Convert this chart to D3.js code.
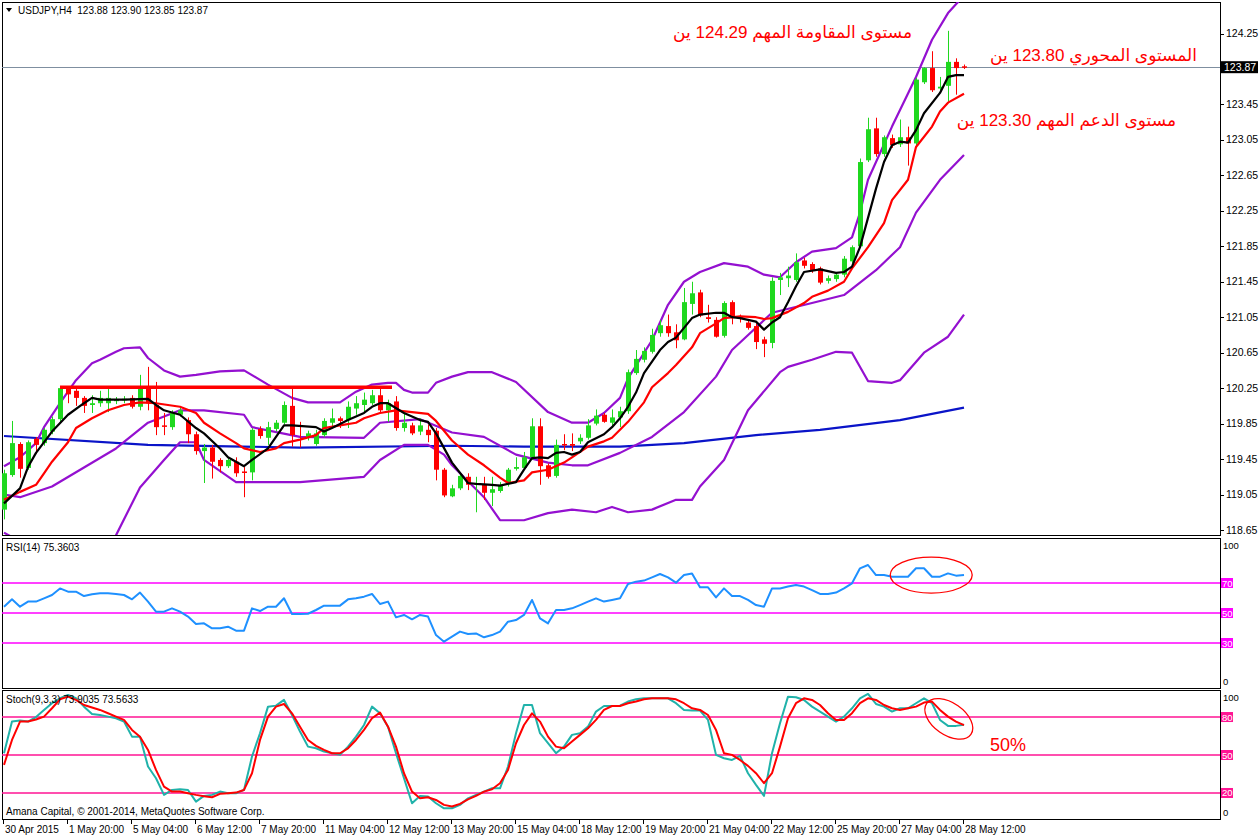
<!DOCTYPE html>
<html><head><meta charset="utf-8">
<script src="https://cdn.jsdelivr.net/npm/d3@7"></script>
<style>
body{margin:0;background:#fff;}
svg{display:block;}
text{font-family:"Liberation Sans","DejaVu Sans",sans-serif;}
</style></head><body><svg id="c" width="1260" height="837"></svg>
<script>
// ---------- DATA ----------
const symbolTitle = "USDJPY,H4  123.88 123.90 123.85 123.87";
const openP  = [118.88,119.27,119.62,119.35,119.68,119.63,119.76,119.90,120.26,120.22,120.14,120.06,120.08,120.08,120.11,120.12,120.14,120.04,120.25,120.06,119.83,119.81,119.95,119.89,119.73,119.54,119.58,119.44,119.37,119.42,119.31,119.30,119.79,119.69,119.79,119.86,120.05,119.83,119.69,119.62,119.72,119.86,119.91,119.89,120.02,120.06,120.08,120.17,120.00,120.10,119.80,119.83,119.76,119.78,119.77,119.33,119.03,119.12,119.25,119.18,119.16,119.07,119.09,119.18,119.34,119.35,119.47,119.82,119.38,119.26,119.62,119.62,119.65,119.69,119.85,119.95,119.86,119.92,119.99,120.42,120.57,120.66,120.87,120.95,120.88,120.80,121.20,121.33,121.05,121.02,120.84,121.22,121.05,120.99,120.95,120.80,120.76,121.47,121.49,121.47,121.69,121.65,121.60,121.46,121.48,121.53,121.68,121.85,122.82,123.18,122.89,123.07,123.00,123.08,123.01,123.70,123.86,123.63,123.66,123.93,123.88];
const highP  = [119.33,119.88,119.64,119.66,119.70,119.80,119.93,120.27,120.27,120.25,120.16,120.17,120.22,120.24,120.15,120.16,120.17,120.40,120.49,120.32,119.97,120.00,120.03,119.92,119.76,119.62,119.61,119.46,119.47,119.47,119.36,119.80,119.82,119.87,119.89,120.10,120.25,119.87,119.77,119.78,119.91,120.02,119.93,120.10,120.16,120.20,120.23,120.25,120.12,120.16,119.97,119.86,119.91,119.84,119.80,119.35,119.16,119.29,119.29,119.25,119.25,119.25,119.19,119.35,119.47,119.53,119.91,119.91,119.40,119.67,119.73,119.74,119.73,119.90,120.01,119.97,120.01,120.04,120.46,120.68,120.71,120.92,121.02,121.08,120.97,121.38,121.45,121.36,121.19,121.05,121.23,121.24,121.08,121.03,120.98,120.83,121.50,121.55,121.62,121.77,121.72,121.67,121.62,121.52,121.56,121.74,121.86,122.84,123.30,123.30,123.10,123.11,123.28,123.20,123.75,123.87,124.05,123.76,124.28,123.97,123.90];
const lowP   = [118.77,119.25,119.24,119.33,119.51,119.60,119.73,119.86,120.08,120.05,119.97,119.97,120.04,119.98,120.07,120.08,120.02,120.00,120.00,119.72,119.72,119.78,119.93,119.63,119.50,119.18,119.23,119.30,119.35,119.25,119.02,119.21,119.68,119.61,119.76,119.84,119.59,119.58,119.66,119.60,119.70,119.80,119.80,119.80,119.95,119.97,120.06,119.97,119.87,119.77,119.76,119.72,119.72,119.64,119.21,119.02,119.02,119.10,119.10,118.85,118.99,118.92,119.07,119.14,119.32,119.33,119.44,119.16,119.23,119.24,119.55,119.54,119.62,119.67,119.83,119.86,119.80,119.81,119.96,120.40,120.54,120.64,120.83,120.83,120.70,120.79,121.08,121.05,120.99,120.82,120.82,120.97,120.99,120.91,120.69,120.60,120.70,121.30,121.39,121.45,121.60,121.55,121.42,121.43,121.45,121.50,121.66,121.83,122.80,122.86,122.86,122.96,122.97,122.76,122.99,123.68,123.59,123.61,123.48,123.56,123.85];
const closeP = [119.29,119.63,119.34,119.64,119.61,119.78,119.90,120.25,120.18,120.14,120.05,120.08,120.14,120.14,120.12,120.13,120.04,120.25,120.08,119.81,119.82,119.97,120.00,119.73,119.54,119.58,119.42,119.37,119.44,119.29,119.30,119.78,119.71,119.81,119.86,120.06,119.72,119.82,119.74,119.74,119.88,119.91,119.88,120.04,120.08,120.12,120.17,120.00,120.08,119.80,119.86,119.74,119.83,119.72,119.33,119.04,119.12,119.26,119.16,119.18,119.07,119.11,119.16,119.33,119.36,119.47,119.82,119.37,119.25,119.61,119.61,119.60,119.69,119.83,119.94,119.87,119.92,119.99,120.43,120.58,120.67,120.85,120.96,120.87,120.79,121.22,121.32,121.07,121.03,120.83,121.21,121.04,121.04,120.93,120.77,120.75,121.46,121.50,121.52,121.67,121.63,121.58,121.44,121.49,121.53,121.71,121.84,122.80,123.17,122.89,123.08,122.99,123.08,123.01,123.73,123.86,123.61,123.65,123.93,123.86,123.87];

// price-panel indicator lines: [bar index, value]
const maFast = [[0,118.95],[2,119.12],[3,119.36],[4,119.52],[6,119.76],[8,119.95],[10,120.08],[11,120.14],[12,120.12],[15,120.12],[18,120.13],[19,120.06],[20,120.00],[22,119.95],[24,119.80],[25,119.74],[27,119.57],[28,119.47],[30,119.37],[31,119.44],[33,119.57],[34,119.70],[35,119.83],[36,119.83],[39,119.81],[40,119.76],[41,119.80],[43,119.89],[45,119.97],[46,120.04],[47,120.08],[48,120.08],[50,119.97],[52,119.89],[53,119.87],[54,119.74],[56,119.41],[58,119.18],[59,119.17],[61,119.16],[62,119.15],[64,119.19],[65,119.33],[66,119.46],[67,119.47],[68,119.46],[69,119.52],[70,119.53],[71,119.50],[72,119.53],[73,119.64],[75,119.73],[76,119.81],[77,119.91],[78,120.04],[79,120.20],[80,120.42],[82,120.68],[83,120.77],[84,120.82],[86,121.04],[87,121.08],[89,121.10],[90,121.10],[91,121.05],[92,121.04],[94,121.00],[95,120.91],[96,120.99],[97,121.05],[98,121.22],[99,121.40],[100,121.56],[102,121.59],[104,121.55],[105,121.56],[106,121.62],[107,121.84],[108,122.17],[109,122.50],[110,122.80],[111,122.99],[112,123.03],[113,123.02],[114,123.16],[115,123.35],[117,123.58],[118,123.76],[119,123.78],[120,123.78]];
const maSlow = [[0,118.99],[2,119.08],[4,119.16],[5,119.29],[6,119.42],[8,119.64],[9,119.80],[11,119.91],[13,120.00],[15,120.06],[17,120.09],[19,120.08],[22,120.04],[24,119.97],[25,119.86],[27,119.74],[29,119.63],[30,119.57],[32,119.53],[34,119.57],[35,119.63],[37,119.67],[39,119.72],[40,119.80],[42,119.83],[44,119.86],[45,119.91],[47,119.97],[49,120.00],[51,119.98],[53,119.96],[54,119.88],[56,119.66],[58,119.50],[60,119.38],[62,119.24],[63,119.18],[65,119.21],[66,119.30],[68,119.33],[70,119.41],[71,119.47],[73,119.59],[75,119.65],[76,119.69],[78,119.87],[80,120.09],[81,120.26],[83,120.42],[84,120.51],[86,120.71],[87,120.87],[89,120.98],[90,121.04],[92,121.06],[94,121.05],[95,121.03],[96,121.04],[98,121.11],[100,121.21],[101,121.28],[103,121.35],[105,121.45],[106,121.60],[108,121.84],[110,122.11],[111,122.37],[113,122.60],[114,122.97],[116,123.20],[117,123.37],[118,123.47],[120,123.57]];
const ma200 = [[0,119.71],[18,119.61],[37,119.58],[56,119.60],[65,119.59],[77,119.59],[85,119.63],[94,119.72],[102,119.78],[112,119.89],[120,120.03]];
const bbUpper = [[0,119.37],[2,119.47],[4,119.63],[5,119.81],[7,120.08],[9,120.34],[11,120.53],[12,120.57],[14,120.66],[15,120.70],[17,120.71],[18,120.59],[20,120.45],[22,120.38],[24,120.40],[27,120.44],[30,120.45],[33,120.29],[36,120.14],[38,120.09],[42,120.09],[44,120.21],[46,120.29],[48,120.31],[49,120.31],[50,120.23],[51,120.20],[53,120.20],[54,120.31],[56,120.38],[58,120.43],[61,120.43],[64,120.32],[68,119.98],[71,119.86],[73,119.86],[75,119.97],[77,120.14],[78,120.36],[81,120.79],[83,121.19],[85,121.45],[87,121.56],[90,121.66],[93,121.62],[95,121.53],[97,121.50],[99,121.67],[101,121.79],[104,121.83],[106,121.95],[107,122.23],[108,122.60],[111,123.20],[114,123.76],[116,124.18],[118,124.48],[120,124.68]];
const bbMiddle = [[0,119.05],[2,119.02],[6,119.14],[14,119.57],[18,119.86],[22,120.00],[25,120.00],[30,119.95],[31,119.81],[37,119.70],[45,119.69],[47,119.86],[52,119.90],[56,119.75],[60,119.70],[64,119.50],[68,119.41],[71,119.38],[73,119.38],[77,119.52],[81,119.70],[85,119.98],[89,120.38],[91,120.68],[96,121.10],[101,121.21],[105,121.30],[109,121.58],[112,121.84],[114,122.23],[117,122.60],[120,122.88]];
const bbLower = [[0,118.62],[1,118.57],[5,118.35],[9,118.22],[13,118.38],[14,118.59],[17,119.13],[20,119.44],[22,119.64],[24,119.64],[25,119.44],[29,119.19],[37,119.19],[45,119.25],[47,119.44],[50,119.61],[53,119.61],[55,119.50],[56,119.38],[60,119.02],[62,118.76],[65,118.76],[68,118.84],[71,118.88],[74,118.85],[76,118.91],[78,118.85],[81,118.88],[84,118.99],[86,118.99],[87,119.14],[90,119.44],[93,120.00],[97,120.43],[98,120.49],[101,120.57],[104,120.66],[106,120.65],[108,120.33],[111,120.31],[112,120.34],[115,120.65],[118,120.83],[120,121.08]];

// oscillators: one value per bar
const rsiVals = [54.2,59.1,54.2,57.6,57.6,59.8,62,66.4,64.2,64.2,61.3,62.5,63.1,63.1,62.7,62,59.1,63.6,57.6,50.9,50.9,53.1,50.9,47.6,42.7,43.1,39.8,39.8,40.9,38.2,38.2,53.1,51.3,54.2,54.2,59.8,49.3,49.3,49.5,52,54.9,54.9,54.9,59.1,59.8,60.9,62.7,56,57.6,47.1,48.7,45.8,48.7,47.6,35.3,30.9,34.2,37.6,36,36.4,33.8,35.3,37.6,44.2,45.3,48.7,58.7,46.4,43.1,52,52,53.1,55.3,57.6,59.8,57.6,58.7,59.8,69.3,70.9,71.6,73.8,76,73.8,70.2,75.3,76.4,67.1,67.1,60.4,66.4,61.3,61.3,58.7,55.3,54.2,66.4,66.4,67.6,68.7,67.6,65.3,62.7,62.7,63.6,66.4,69.8,79.8,82,75.3,75.3,74.2,74.2,74.2,79.8,79.8,74.2,74.2,76.4,74.9,75.36];
const stochMain = [51.4,76.4,77.2,76.4,80,85.6,90.9,94.8,97.4,94.8,88.2,82.4,81.6,80.3,79,76.4,64.5,64.5,40.9,31.6,18.5,22.4,22.9,22.4,13.2,17.7,18.5,21.1,19.8,19.8,22.4,48.8,67.2,88.2,89,93.5,81.6,68.5,56.6,55.3,52.7,51.4,50.1,56.6,64.5,73.7,88.2,82.9,72.4,51.4,31.6,11.9,17.7,17.2,11.9,7.9,7.9,10.6,15.8,18.5,21.1,23.7,23.7,40.9,67.2,89.5,89.5,67.2,59.3,51.4,56.6,65.9,67.2,72.4,84.3,88.7,88.7,89,92.2,94,94.8,94.8,94.8,94.8,90.9,85.6,85.1,85.1,77.7,50.1,47.4,46.1,49.3,35.6,26.4,17.7,51.4,75.1,96.1,95.6,93.5,88.2,84.3,80.3,76.4,80.3,86.9,94.8,98.2,90.3,88.2,84.3,86.9,86.9,90.9,94.8,90.9,77.7,73,73,73.9];
const stochSignal = [42.2,61.9,76.4,76.4,78,80.3,86.9,94,96.1,93.5,89.5,87.5,85.6,83,80.3,77.7,69.8,64.5,54,38.2,25,21.1,21.1,19.8,18.5,17.5,16.6,19.3,19.8,20.3,22.4,35.6,61.9,80.3,88.2,90.3,82.9,72.4,61.9,57.2,54,51.4,51.4,55.3,61.9,69.8,79,83.5,72.4,56.6,35.6,21.1,15.8,16.6,14.5,10.6,9.3,11.4,15,17.7,21.1,22.9,27.7,38.2,59.3,73.7,82.9,76.4,64.5,56.6,55.3,60.6,65.9,71.1,77.7,85.6,88.7,88.7,90.9,92.2,94,94.8,94.8,94.8,94,90.9,86.9,85.6,81.6,69.8,51.4,50.1,46.1,41.4,35.6,27.7,35.6,56.6,79,90.9,94.8,93.5,89.5,83,77.7,77.7,83,90.9,94.8,93.5,89.5,86.9,85.6,86.9,88.2,91.4,92.2,85.6,80.3,76.4,73.6];

const priceTicks = [124.25,123.85,123.45,123.05,122.65,122.25,121.85,121.45,121.05,120.65,120.25,119.85,119.45,119.05,118.65];
const lastPrice = 123.87;
const resistance = {from:7, to:48.5, level:120.26};
const timeLabels = ["30 Apr 2015","1 May 20:00","5 May 04:00","6 May 12:00","7 May 20:00","11 May 04:00","12 May 12:00","13 May 20:00","15 May 04:00","18 May 12:00","19 May 20:00","21 May 04:00","22 May 12:00","25 May 20:00","27 May 04:00","28 May 12:00"];
const timeLabelStep = 8;
const rsiLevels = [70,50,30];
const stochLevels = [80,50,20];
const rsiTitle = "RSI(14) 75.3603";
const stochTitle = "Stoch(9,3,3) 73.9035 73.5633";
const copyright = "Amana Capital, © 2001-2014, MetaQuotes Software Corp.";
const notes = [
  {text:"مستوى المقاومة المهم 124.29 ين", x:912, y:38},
  {text:"المستوى المحوري 123.80 ين", x:1197, y:61},
  {text:"مستوى الدعم المهم 123.30 ين", x:1176, y:126}
];

// ---------- LAYOUT ----------
const L = 2, R = 1220;
const P = {main:[2,535], rsi:[538,688], stoch:[690,819]};
const BULL = "#1fd81f", BEAR = "#ff0000";

const svg = d3.select("#c");
const x = d3.scaleLinear().domain([0,120]).range([4,964]);
const yP = d3.scaleLinear().domain([118.65,124.25]).range([530,33.5]);
const yR = d3.scaleLinear().domain([0,100]).range([688,538]);
const yS = d3.scaleLinear().domain([0,100]).range([818.3,691.7]);

const defs = svg.append("defs");
Object.entries(P).forEach(([k,[t,b]])=>{
  defs.append("clipPath").attr("id","clip-"+k).append("rect").attr("x",L).attr("y",t).attr("width",R-L).attr("height",b-t);
});

svg.append("rect").attr("width",1260).attr("height",837).attr("fill","#fff");

Object.values(P).forEach(([t,b])=>{
  svg.append("rect").attr("x",L+0.5).attr("y",t+0.5).attr("width",R-L).attr("height",b-t)
    .attr("fill","none").attr("stroke","#000").attr("stroke-width",1);
});

// ---------- MAIN ----------
const gM = svg.append("g").attr("clip-path","url(#clip-main)");
gM.append("line").attr("x1",L).attr("x2",R).attr("y1",Math.round(yP(lastPrice))+0.5).attr("y2",Math.round(yP(lastPrice))+0.5)
  .attr("stroke","#7f8fa0").attr("stroke-width",1);

const linePairs = (ys)=>d3.line().x(d=>x(d[0])).y(d=>ys(d[1]));
const lineSeries = (ys)=>d3.line().x((d,i)=>x(i)).y(d=>ys(d));
function drawPath(g,data,gen,color,w){
  g.append("path").datum(data).attr("d",gen).attr("fill","none").attr("stroke",color)
   .attr("stroke-width",w).attr("stroke-linejoin","round");
}
drawPath(gM,ma200,linePairs(yP),"#0a14c8",2.2);
drawPath(gM,bbUpper,linePairs(yP),"#9410d0",2.2);
drawPath(gM,bbMiddle,linePairs(yP),"#9410d0",2.2);
drawPath(gM,bbLower,linePairs(yP),"#9410d0",2.2);

const bars = d3.range(openP.length).map(i=>({i,o:openP[i],h:highP[i],l:lowP[i],c:closeP[i]}));
gM.selectAll("line.wick").data(bars).join("line").attr("class","wick")
  .attr("x1",d=>x(d.i)+0.5).attr("x2",d=>x(d.i)+0.5)
  .attr("y1",d=>yP(d.h)).attr("y2",d=>yP(d.l))
  .attr("stroke",d=>d.c>=d.o?BULL:BEAR).attr("stroke-width",1);
gM.selectAll("rect.body").data(bars).join("rect").attr("class","body")
  .attr("x",d=>x(d.i)-2).attr("width",5)
  .attr("y",d=>yP(Math.max(d.o,d.c)))
  .attr("height",d=>Math.max(1.5,Math.abs(yP(d.o)-yP(d.c))))
  .attr("fill",d=>d.c>=d.o?BULL:BEAR);

drawPath(gM,maSlow,linePairs(yP),"#ff0000",2.2);
drawPath(gM,maFast,linePairs(yP),"#000000",2.2);

gM.append("line").attr("x1",x(resistance.from)).attr("x2",x(resistance.to))
  .attr("y1",yP(resistance.level)).attr("y2",yP(resistance.level))
  .attr("stroke","#ff0000").attr("stroke-width",3.5);

// price axis
svg.selectAll("line.ptick").data(priceTicks).join("line").attr("class","ptick")
  .attr("x1",R).attr("x2",R+4).attr("y1",d=>Math.round(yP(d))+0.5).attr("y2",d=>Math.round(yP(d))+0.5)
  .attr("stroke","#000");
svg.selectAll("text.plab").data(priceTicks).join("text").attr("class","plab")
  .attr("x",R+6).attr("y",d=>yP(d)+3.6).attr("font-size",10.5).attr("fill","#000")
  .text(d=>d.toFixed(2));
svg.append("rect").attr("x",R+1).attr("y",yP(lastPrice)-6).attr("width",37).attr("height",12).attr("fill","#000");
svg.append("text").attr("x",R+4).attr("y",yP(lastPrice)+3.8).attr("font-size",10.5).attr("fill","#fff").text(lastPrice.toFixed(2));

// header
svg.append("path").attr("d","M6,8 L12,8 L9,12 Z").attr("fill","#000");
svg.append("text").attr("x",18).attr("y",14).attr("font-size",10).attr("fill","#000").attr("xml:space","preserve").text(symbolTitle);

// annotations
notes.forEach(n=>{
  svg.append("text").attr("x",n.x).attr("y",n.y).attr("text-anchor","end")
    .attr("font-size",17).attr("fill","#ff0000").text(n.text);
});

// ---------- RSI ----------
const gR = svg.append("g").attr("clip-path","url(#clip-rsi)");
svg.append("text").attr("x",6).attr("y",551).attr("font-size",10).text(rsiTitle);
gR.selectAll("line.lev").data(rsiLevels).join("line").attr("class","lev")
  .attr("x1",L).attr("x2",R).attr("y1",d=>yR(d)).attr("y2",d=>yR(d))
  .attr("stroke","#ff00ff").attr("stroke-width",1.6);
drawPath(gR,rsiVals,lineSeries(yR),"#1e90ff",2);
rsiLevels.forEach(v=>{
  svg.append("rect").attr("x",R+1).attr("y",yR(v)-5).attr("width",12).attr("height",10).attr("fill","#ff00ff");
  svg.append("text").attr("x",R+2).attr("y",yR(v)+3.5).attr("font-size",9.5).attr("fill","#fff").text(v);
});
svg.append("text").attr("x",R+3).attr("y",549).attr("font-size",9.5).text("100");
svg.append("text").attr("x",R+3).attr("y",685).attr("font-size",9.5).text("0");
svg.append("ellipse").attr("cx",x(115.9)).attr("cy",yR(75.3)).attr("rx",41).attr("ry",18)
  .attr("fill","none").attr("stroke","#ff0000").attr("stroke-width",1.3);

// ---------- STOCH ----------
const gS = svg.append("g").attr("clip-path","url(#clip-stoch)");
svg.append("text").attr("x",6).attr("y",703).attr("font-size",10).text(stochTitle);
svg.append("text").attr("x",6).attr("y",815).attr("font-size",10).text(copyright);
gS.selectAll("line.lev").data(stochLevels).join("line").attr("class","lev")
  .attr("x1",L).attr("x2",R).attr("y1",d=>yS(d)).attr("y2",d=>yS(d))
  .attr("stroke","#ff1493").attr("stroke-width",1.6);
drawPath(gS,stochMain,lineSeries(yS),"#20b2aa",2);
drawPath(gS,stochSignal,lineSeries(yS),"#ff0000",2);
stochLevels.forEach(v=>{
  svg.append("rect").attr("x",R+1).attr("y",yS(v)-5).attr("width",12).attr("height",10).attr("fill","#ff1493");
  svg.append("text").attr("x",R+2).attr("y",yS(v)+3.5).attr("font-size",9.5).attr("fill","#fff").text(v);
});
svg.append("text").attr("x",R+3).attr("y",701).attr("font-size",9.5).text("100");
svg.append("text").attr("x",R+3).attr("y",816).attr("font-size",9.5).text("0");
svg.append("ellipse").attr("cx",x(118.1)).attr("cy",yS(78.5)).attr("rx",27).attr("ry",16)
  .attr("transform",`rotate(35 ${x(118.1)} ${yS(78.5)})`)
  .attr("fill","none").attr("stroke","#ff0000").attr("stroke-width",1.3);
svg.append("text").attr("x",990).attr("y",751).attr("font-size",18).attr("fill","#ff0000").text("50%");

// ---------- TIME AXIS ----------
const tIdx = timeLabels.map((t,k)=>({t,i:k*timeLabelStep}));
svg.selectAll("line.ttick").data(tIdx).join("line").attr("class","ttick")
  .attr("x1",d=>Math.round(x(d.i))-0.5).attr("x2",d=>Math.round(x(d.i))-0.5)
  .attr("y1",P.stoch[1]).attr("y2",P.stoch[1]+5).attr("stroke","#000");
svg.selectAll("text.tlab").data(tIdx).join("text").attr("class","tlab")
  .attr("x",d=>x(d.i)+1).attr("y",833).attr("font-size",10).text(d=>d.t);
</script></body></html>
